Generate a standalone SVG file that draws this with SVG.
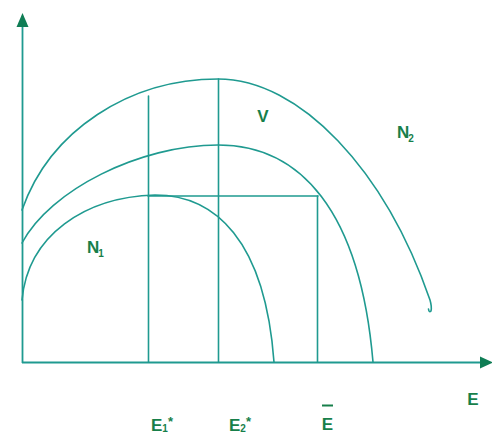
<svg xmlns="http://www.w3.org/2000/svg" width="492" height="436" viewBox="0 0 492 436">
<style>
.ln{fill:none;stroke:#1f9a90;stroke-width:1.6;stroke-linecap:round}
.ax{fill:none;stroke:#1f9a90;stroke-width:1.8}
.lb{font-family:"Liberation Sans",Arial,sans-serif;font-weight:bold;fill:#177f4a;font-size:17px}
.sb{font-size:10px}
.st{font-size:13px}
</style>
<rect width="492" height="436" fill="#ffffff"/>
<g id="axes">
<line class="ax" x1="22.5" y1="363" x2="22.5" y2="25"/>
<polygon points="22.5,13 16.5,27 28.5,27" fill="#0f7d55"/>
<line class="ax" x1="22" y1="362.5" x2="482" y2="362.5"/>
<polygon points="493,362.5 480,356.5 480,368.5" fill="#0f7d55"/>
</g>
<g id="connectors">
<line class="ln" x1="148.5" y1="96" x2="148.5" y2="362"/>
<line class="ln" x1="218.5" y1="79" x2="218.5" y2="362"/>
<line class="ln" x1="317.5" y1="196" x2="317.5" y2="362"/>
<line class="ln" x1="148" y1="196" x2="318" y2="196"/>
</g>
<g id="curve-outer">
<path class="ln" d="M22,210 C50,130 130,79 218,79 C300,79 385,170 430,300 Q432,307 431,311 Q429,313 428.5,309"/>
</g>
<g id="curve-middle">
<path class="ln" d="M22,243 C50,190 140,145 218,145 C300,145 360,210 373,362"/>
</g>
<g id="curve-inner">
<path class="ln" d="M22,300 C28,235 85,197 155,195 C215,195 265,240 274,362"/>
</g>
<g id="label-V"><text class="lb" x="263" y="122" text-anchor="middle">V</text></g>
<g id="label-N2"><text class="lb" x="397" y="138">N<tspan class="sb" dx="-1" dy="4">2</tspan></text></g>
<g id="label-N1"><text class="lb" x="87" y="253">N<tspan class="sb" dx="-1" dy="4">1</tspan></text></g>
<g id="label-E1"><text class="lb" x="151" y="431">E<tspan class="sb" dy="1">1</tspan><tspan class="st" dy="-6">*</tspan></text></g>
<g id="label-E2"><text class="lb" x="229" y="431">E<tspan class="sb" dy="1">2</tspan><tspan class="st" dy="-6">*</tspan></text></g>
<g id="label-Ebar"><text class="lb" x="327.5" y="430" text-anchor="middle">E</text><line x1="322" y1="405.5" x2="333" y2="405.5" stroke="#177f4a" stroke-width="2"/></g>
<g id="label-E"><text class="lb" x="473" y="405" text-anchor="middle">E</text></g>
</svg>
